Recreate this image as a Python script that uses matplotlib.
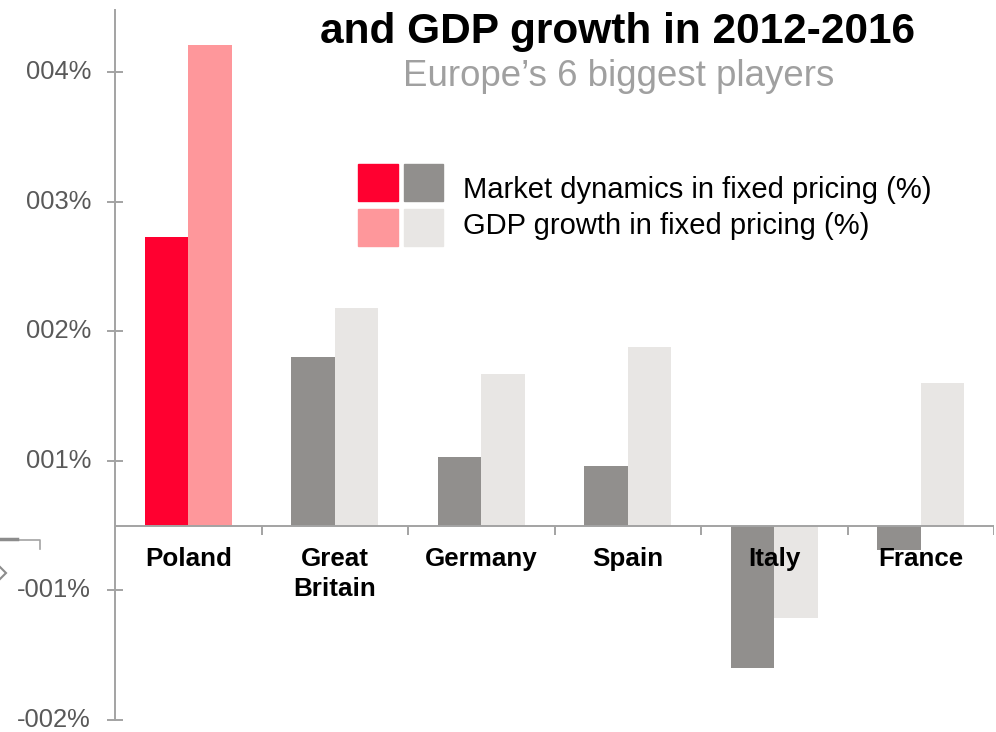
import numpy as np
import matplotlib.pyplot as plt
from matplotlib.patches import Rectangle
from matplotlib.lines import Line2D

plt.rcParams['font.family'] = ['Liberation Sans', 'DejaVu Sans']

countries = ["Poland", "Great\nBritain", "Germany", "Spain", "Italy", "France"]
market = [2.23, 1.30, 0.53, 0.46, -1.10, -0.19]
gdp = [3.71, 1.68, 1.17, 1.38, -0.71, 1.10]
ytick_vals = [3.5, 2.5, 1.5, 0.5, -0.5, -1.5]
ytick_labels = ["004%", "003%", "002%", "001%", "-001%", "-002%"]

RED, PINK = "#FF0030", "#FE979B"
GRAY, LIGHT = "#918F8D", "#E8E6E4"
AXIS = "#A3A3A3"

W, H = 996, 732
fig = plt.figure(figsize=(W / 100, H / 100), dpi=100)


def fx(x):
    return x / W


def fy(y):
    return 1 - y / H


ax = fig.add_axes([fx(115), fy(720), fx(994) - fx(115), fy(10) - fy(720)])
ax.set_xlim(0, 6)
ax.set_ylim(-1.5, 3.98)

x = np.arange(len(countries)) + 0.5
w = 0.297
mcol = [RED] + [GRAY] * 5
gcol = [PINK] + [LIGHT] * 5
ax.bar(x - w / 2, market, w, color=mcol, zorder=2)
ax.bar(x + w / 2, gdp, w, color=gcol, zorder=2)

# zero line with small separators between countries
ax.axhline(0, color=AXIS, lw=1.4, zorder=3)
ax.vlines(np.arange(1, 7), -0.07, 0, color=AXIS, lw=1.4, zorder=3)

for xi, name in zip(x, countries):
    ax.annotate(name, (xi, 0), xytext=(0, -15.5), textcoords="offset points",
                ha="center", va="top", fontsize=18.7, fontweight="bold",
                linespacing=1.3, zorder=4)

for s in ["top", "right", "bottom"]:
    ax.spines[s].set_visible(False)
ax.spines["left"].set_color(AXIS)
ax.spines["left"].set_linewidth(1.4)
ax.set_xticks([])
ax.set_yticks(ytick_vals)
ax.set_yticklabels(ytick_labels, va="center")
ax.tick_params(axis="y", direction="inout", length=11.5, width=1.4,
               color=AXIS, labelcolor="#595959", labelsize=18.4, pad=11.5)

# titles
fig.text(fx(617), fy(43), "and GDP growth in 2012-2016", ha="center",
         va="baseline", fontsize=30.5, fontweight="bold")
fig.text(fx(619), fy(86), "Europe\u2019s 6 biggest players", ha="center",
         va="baseline", fontsize=26.4, color="#A0A0A0")

# legend
for (x0, x1), (y0, y1), c in [((358, 398), (164, 201), RED),
                              ((404, 443), (164, 201), GRAY),
                              ((358, 398), (209, 246), PINK),
                              ((404, 443), (209, 246), LIGHT)]:
    fig.patches.append(Rectangle((fx(x0), fy(y1)), fx(x1) - fx(x0),
                                 fy(y0) - fy(y1), transform=fig.transFigure,
                                 color=c))
fig.text(fx(463), fy(190), "Market dynamics in fixed pricing (%)",
         va="center", fontsize=21)
fig.text(fx(463), fy(226), "GDP growth in fixed pricing (%)",
         va="center", fontsize=21)

# connector bits on the left edge
fig.lines.append(Line2D([fx(0), fx(40), fx(40)], [fy(540), fy(540), fy(549)],
                        transform=fig.transFigure, color=AXIS, lw=1.2))
fig.lines.append(Line2D([fx(0), fx(17)], [fy(539), fy(539)],
                        transform=fig.transFigure, color="#8C8C8C", lw=2.5))
fig.lines.append(Line2D([fx(-2)], [fy(573)], transform=fig.transFigure,
                        marker="D", ms=8, mfc="none", mec="#8C8C8C", mew=1.5))

fig.savefig("out.png", dpi=100)
